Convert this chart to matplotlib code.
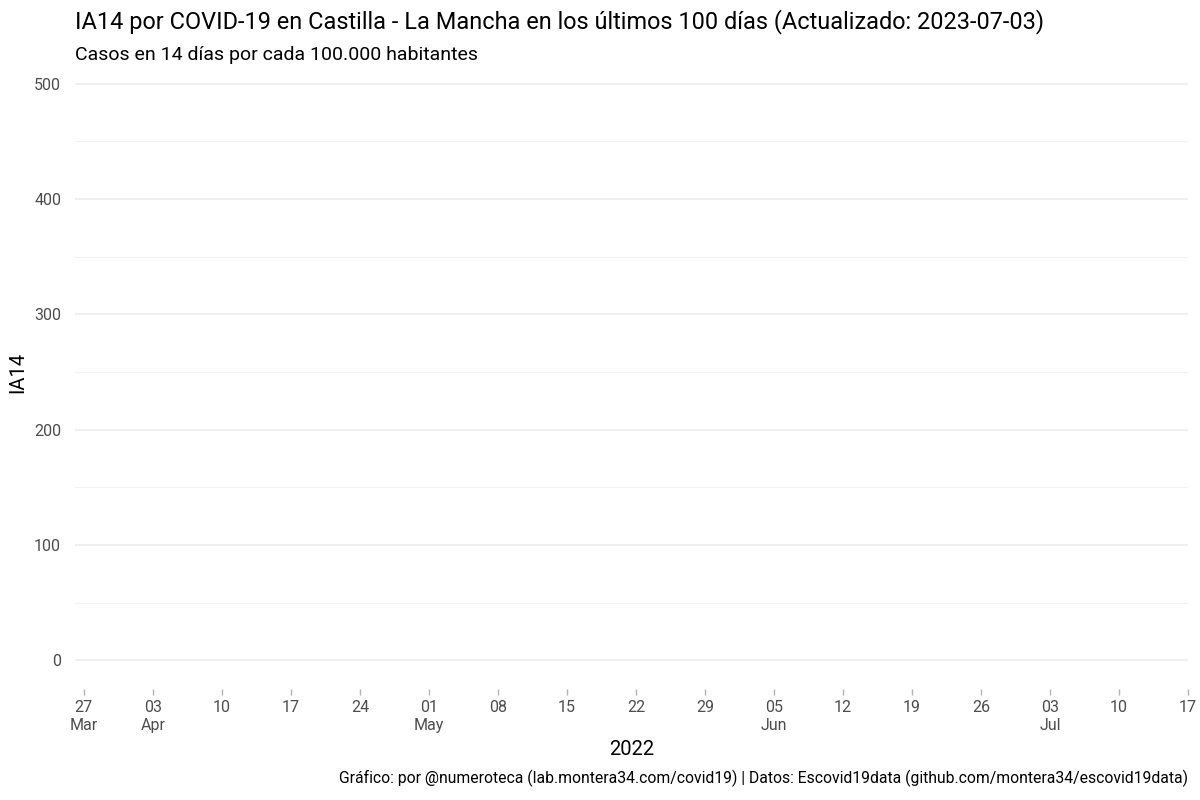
import datetime as dt

import matplotlib
matplotlib.use("Agg")
import matplotlib.pyplot as plt
import matplotlib.dates as mdates

plt.rcParams["font.family"] = ["Roboto", "DejaVu Sans"]

# the reference shows an empty series: nothing drawn in the panel
ia14_dates  = []
ia14_values = []

x_start = dt.date(2022, 3, 27)
x_end   = dt.date(2022, 7, 17)
tick_dates  = [x_start + dt.timedelta(days=7 * i) for i in range(17)]
month_names = {3: "Mar", 4: "Apr", 5: "May", 6: "Jun", 7: "Jul"}
y_major = [0, 100, 200, 300, 400, 500]
y_minor = [50, 150, 250, 350, 450]

TITLE    = "IA14 por COVID-19 en Castilla - La Mancha en los últimos 100 días (Actualizado: 2023-07-03)"
SUBTITLE = "Casos en 14 días por cada 100.000 habitantes"
CAPTION  = ("Gráfico: por @numeroteca (lab.montera34.com/covid19) | "
            "Datos: Escovid19data (github.com/montera34/escovid19data)")


def tick_label(d, first):
    lab = d.strftime("%d")
    if first or d.day <= 7:
        lab += "\n" + month_names[d.month]
    return lab


fig = plt.figure(figsize=(12, 8), dpi=100)
ax = fig.add_axes([75 / 1200, 1 - 689 / 800, (1188 - 75) / 1200, (689 - 55) / 800])

ax.plot(ia14_dates, ia14_values, color="#333333")

ax.set_xlim(mdates.date2num(x_start) - 0.9, mdates.date2num(x_end))
ax.set_ylim(-25, 525)

ax.set_xticks([mdates.date2num(d) for d in tick_dates])
ax.set_xticklabels([tick_label(d, i == 0) for i, d in enumerate(tick_dates)],
                   fontsize=11.5, color="#4d4d4d", linespacing=1.25)
ax.set_yticks(y_major)
ax.set_yticks(y_minor, minor=True)
ax.set_yticklabels([str(v) for v in y_major], fontsize=11.5, color="#4d4d4d")

ax.grid(axis="y", which="major", color="#ebebeb", linewidth=1.1)
ax.grid(axis="y", which="minor", color="#f2f2f2", linewidth=0.8)
ax.tick_params(axis="y", which="both", length=0, pad=10)
ax.tick_params(axis="x", length=4, width=1, color="#b3b3b3", pad=4)
for s in ax.spines.values():
    s.set_visible(False)

ax.set_xlabel("2022", fontsize=14.5, labelpad=5)
ax.set_ylabel("IA14", fontsize=14.5)
ax.yaxis.set_label_coords(-48 / 1113, 0.5)

fig.text(75 / 1200, 1 - 22 / 800, TITLE, fontsize=16.9, ha="left", va="center")
fig.text(75 / 1200, 1 - 55 / 800, SUBTITLE, fontsize=14, ha="left", va="center")
fig.text(1188 / 1200, 1 - 778 / 800, CAPTION, fontsize=11.3, ha="right", va="center")

fig.savefig("out.png", dpi=100)
plt.close(fig)
